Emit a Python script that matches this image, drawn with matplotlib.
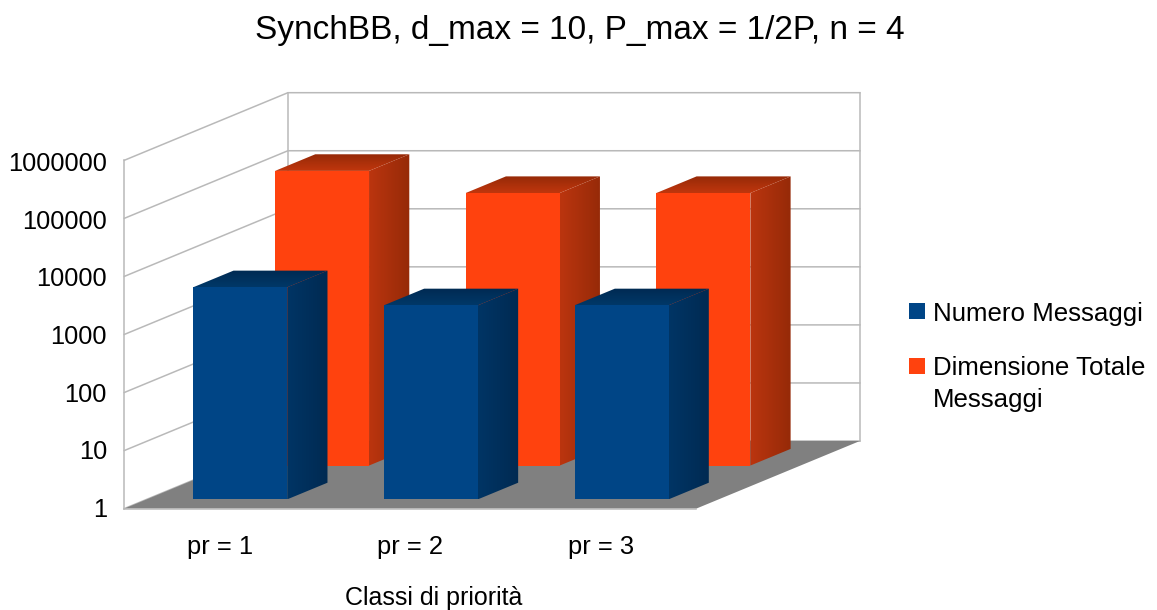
import numpy as np
import matplotlib
matplotlib.use("Agg")
import matplotlib.pyplot as plt
from matplotlib.colors import LinearSegmentedColormap
from matplotlib.patches import Polygon, Rectangle

plt.rcParams["font.family"] = ["Liberation Sans", "DejaVu Sans"]

title = "SynchBB, d_max = 10, P_max = 1/2P, n = 4"
x_title = "Classi di priorità"
categories = ["pr = 1", "pr = 2", "pr = 3"]
tick_labels = ["1", "10", "100", "1000", "10000", "100000", "1000000"]
numero_messaggi = [4500, 2200, 2200]
dimensione_totale = [119000, 49500, 49500]
series_names = ["Numero Messaggi", "Dimensione Totale\nMessaggi"]

BLUE = "#004586"
ORANGE = "#ff420e"
GRID = "#b9b9b9"

# Oblique projection of the box: category position, depth (0 front, 1 back),
# and log10 of the value, mapped to canvas pixels.
X0, Y0 = 124.3, 508.6
PLANE_W = 572.0
DECADE = 58.05
DX, DY = 163.6, -67.6


def project(cat, depth, value):
    level = np.log10(value)
    return (X0 + cat * PLANE_W / len(categories) + depth * DX,
            Y0 - level * DECADE + depth * DY)


fig = plt.figure(figsize=(11.57, 6.10), dpi=100)
ax = fig.add_axes([0, 0, 1, 1])
ax.set_xlim(0, 1157)
ax.set_ylim(610, 0)
ax.axis("off")


def gradient_face(points, stops, horizontal, z):
    """Fill a polygon with a linear colour ramp."""
    poly = Polygon(points, closed=True, facecolor="none", edgecolor="none",
                   zorder=z)
    ax.add_patch(poly)
    xs, ys = zip(*points)
    cmap = LinearSegmentedColormap.from_list("face", stops)
    ramp = np.linspace(0, 1, 64)
    ramp = ramp[None, :] if horizontal else ramp[:, None]
    img = ax.imshow(ramp, cmap=cmap, aspect="auto", zorder=z,
                    extent=(min(xs), max(xs), max(ys), min(ys)),
                    interpolation="bilinear")
    img.set_clip_path(poly)


def bar3d(cat, d0, d1, value, front, side_stops, top_stops, z):
    c0, c1 = cat + 0.244, cat + 0.737
    fbl = project(c0, d0, 1)
    fbr = project(c1, d0, 1)
    ftr = project(c1, d0, value)
    ftl = project(c0, d0, value)
    bbr = project(c1, d1, 1)
    btr = project(c1, d1, value)
    btl = project(c0, d1, value)
    gradient_face([fbr, bbr, btr, ftr], side_stops, True, z)
    gradient_face([ftl, ftr, btr, btl], top_stops, False, z)
    ax.add_patch(Polygon([fbl, fbr, ftr, ftl], closed=True, facecolor=front,
                         edgecolor="none", zorder=z + 0.1))


# Floor of the box
n = len(categories)
ax.add_patch(Polygon([project(0, 0, 1), project(n, 0, 1),
                      project(n, 1, 1), project(0, 1, 1)], closed=True,
                     facecolor="#808080", edgecolor="none", zorder=1))

# Decade grid on the side wall and the back wall
for i, label in enumerate(tick_labels):
    v = 10.0 ** i
    pts = [project(0, 0, v), project(0, 1, v), project(n, 1, v)]
    ax.plot(*zip(*pts), color=GRID, lw=1.1, zorder=0.5, solid_joinstyle="miter")
    fx, fy = project(0, 0, v)
    ax.text(107, fy + 1.5 + i * 0.35, label, ha="right", va="center",
            fontsize=18.3, color="black")

for cat_pos, depth in [(0, 0), (0, 1), (n, 1)]:
    pts = [project(cat_pos, depth, 1), project(cat_pos, depth, 1e6)]
    ax.plot(*zip(*pts), color=GRID, lw=1.1, zorder=0.5)
ax.plot(*zip(project(0, 0, 1), project(n, 0, 1)), color=GRID, lw=1.1, zorder=1.2)

# Rear row, then front row, so nearer bars overlap farther ones
orange_side = ["#bb350f", "#962a08"]
orange_top = ["#962a08", "#c0360d"]
blue_side = ["#003565", "#002a52"]
blue_top = ["#002a52", "#003868"]
for i in range(n):
    bar3d(i, 0.637, 0.883, dimensione_totale[i], ORANGE, orange_side,
          orange_top, 2 + i * 0.01)
for i in range(n):
    bar3d(i, 0.137, 0.383, numero_messaggi[i], BLUE, blue_side,
          blue_top, 3 + i * 0.01)

# Category labels below the floor
for i, label in enumerate(categories):
    x, _ = project(i + 0.5, 0, 1)
    ax.text(x, 547, label, ha="center", va="center", fontsize=18.4, color="black")

ax.text(434, 598, x_title, ha="center", va="center", fontsize=18, color="black")
ax.text(580, 30, title, ha="center", va="center", fontsize=24.05, color="black")

# Legend
ax.add_patch(Rectangle((909, 303), 16, 16, facecolor=BLUE, edgecolor="none"))
ax.add_patch(Rectangle((909, 357.5), 16, 16, facecolor=ORANGE, edgecolor="none"))
ax.text(933, 314.5, series_names[0], ha="left", va="center", fontsize=18.6,
        color="black")
ax.text(933, 384, series_names[1], ha="left", va="center", fontsize=18.6,
        color="black", linespacing=1.4)

ax.set_xlim(0, 1157)
ax.set_ylim(610, 0)
fig.savefig("out.png", dpi=100)
